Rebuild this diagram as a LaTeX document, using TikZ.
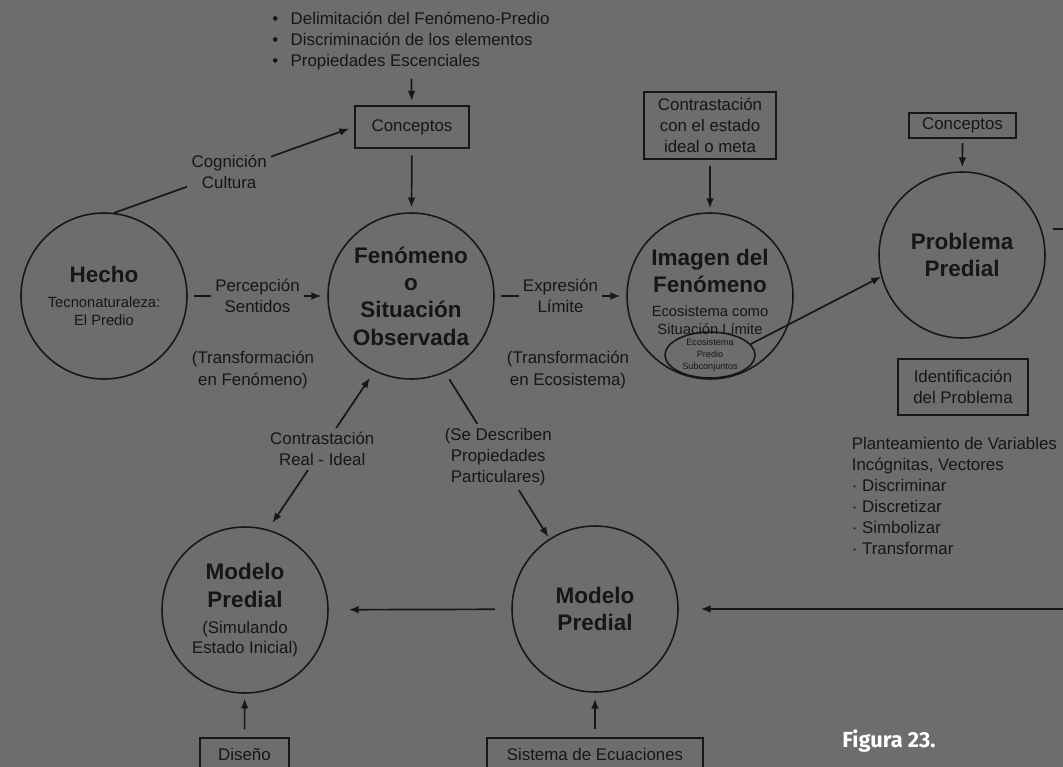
\documentclass[tikz,border=0pt]{standalone}
\usepackage{fontspec}
\setmainfont{Liberation Sans}
\newfontfamily\figfont{Fira Sans}
\usetikzlibrary{arrows.meta, shapes.geometric}
\definecolor{bg}{RGB}{108,109,111}
\definecolor{ink}{RGB}{22,22,23}
\newcommand{\cirtitle}{\bfseries\fontsize{16}{19.5}\selectfont}
\newcommand{\cirsub}{\mdseries\fontsize{10.5}{12.8}\selectfont}
\newcommand{\cirnote}{\mdseries\fontsize{12}{14.2}\selectfont}
\tikzset{
  circ/.style={draw=ink, circle, line width=1.1pt, minimum size=41.5mm, inner sep=0pt, align=center, font=\cirtitle},
  box/.style={draw=ink, line width=1pt, inner sep=0pt, align=center},
  lbl/.style={fill=bg, inner sep=3pt, align=center},
}
\begin{document}
\begin{tikzpicture}[x=0.25mm, y=-0.25mm, >={Latex[length=7pt,width=5.5pt]}, font=\fontsize{12}{15}\selectfont, text=ink, color=ink, line width=1.2pt]
\fill[bg] (0,0) rectangle (1063,767);
\useasboundingbox (0,0) rectangle (1063,767);

% circles
\node[circ] (hecho) at (104,296) {Hecho\\[-1.7pt]\cirsub Tecnonaturaleza:\\[-7pt]\cirsub El Predio};
\node[circ] (fen) at (411,296) {Fenómeno\\o\\Situación\\Observada};
\node[circ] (img) at (710,296) {};
\node[align=center, inner sep=0pt, font=\cirtitle] (imgtxt) at (710,292) {Imagen del\\Fenómeno\\[-2.5pt]\cirsub Ecosistema como\\[-6.7pt]\cirsub Situación Límite};
\node[draw=ink, ellipse, line width=1.1pt, minimum width=22.5mm, minimum height=11mm, inner sep=0pt, align=center, font=\fontsize{6.5}{8.5}\selectfont] (eco) at (710,355) {Ecosistema\\Predio\\Subconjuntos};
\node[circ] (prob) at (962,255) {Problema\\Predial};
\node[circ] (mod1) at (245,610) {Modelo\\Predial\\[-1pt]\cirnote (Simulando\\[-5.3pt]\cirnote Estado Inicial)};
\node[circ] (mod2) at (595,609) {Modelo\\Predial};

% boxes
\node[box, line width=1.8pt, minimum width=28.5mm, minimum height=10.5mm] (conc1) at (412,127) {Conceptos};
\node[box, minimum width=33mm, minimum height=16.75mm] (meta) at (710,125.5) {Contrastación\\con el estado\\ideal o meta};
\node[box, line width=1.6pt, minimum width=26.75mm, minimum height=6.25mm] (conc2) at (962.5,125.5) {Conceptos};
\node[box, minimum width=32.5mm, minimum height=14mm] (ident) at (963,387) {Identificación\\del Problema};
\node[box, minimum width=22.25mm, minimum height=8mm] (dis) at (244.5,754) {Diseño};
\node[box, minimum width=54mm, minimum height=8mm] (sis) at (595,754) {Sistema de Ecuaciones};

% free texts
\node[align=left, inner sep=0pt] (pts) at (411,41) {\makebox[13pt][l]{\textbullet}Delimitación del Fenómeno-Predio\\\makebox[13pt][l]{\textbullet}Discriminación de los elementos\\\makebox[13pt][l]{\textbullet}Propiedades Escenciales};
\node[align=left, inner sep=0pt, anchor=north west] (vars) at (851,436) {Planteamiento de Variables\\Incógnitas, Vectores\\· Discriminar\\· Discretizar\\· Simbolizar\\· Transformar};
\node[align=center] (tfen) at (253,370) {(Transformación\\en Fenómeno)};
\node[align=center] (teco) at (568,370) {(Transformación\\en Ecosistema)};
\node[text=white, font=\figfont\bfseries\fontsize{15.5}{18}\selectfont] (fig) at (889,741) {Figura 23.};

% connectors
\draw [->, shorten <=2mm, shorten >=1mm](pts) -- (conc1);
\draw [->, shorten <=1.5mm, shorten >=1.2mm](conc1) -- (fen);
\draw [->, shorten >=1.2mm](hecho.83) -- (conc1.west) node[lbl, pos=.48]{Cognición\\Cultura};
\draw [->, shorten <=1.5mm, shorten >=1.5mm](hecho) -- (fen) node[lbl, pos=.5]{Percepción\\Sentidos};
\draw [->, shorten <=1.5mm, shorten >=1.5mm](fen) -- (img) node[lbl, pos=.5]{Expresión\\Límite};
\draw [->, shorten <=1.5mm, shorten >=1mm](meta) -- (img);
\draw [->](eco.15) -- (prob.195);
\draw [->, shorten <=1mm, shorten >=1mm](conc2) -- (prob);
\draw [<->, shorten <=2mm, shorten >=2mm](fen.244) -- (mod1.74) node[lbl, pos=.49]{Contrastación\\Real - Ideal};
\draw [->, shorten <=2mm, shorten >=.5mm](fen.294) -- (mod2.123) node[lbl, pos=.51]{(Se Describen\\Propiedades\\Particulares)};
\draw [->, shorten <=4mm, shorten >=5mm](mod2) -- (mod1);
\coordinate (pright) at (1053,229);
\coordinate (pout) at (1075,229);
\draw (pright) -- (pout);
\coordinate (rin) at (1075,609);
\draw [->, shorten >=5.5mm](rin) -- (mod2);
\draw [->, shorten <=2mm, shorten >=1.2mm](dis) -- (mod1);
\draw [->, shorten <=2mm, shorten >=1.5mm](sis) -- (mod2);
\end{tikzpicture}
\end{document}
